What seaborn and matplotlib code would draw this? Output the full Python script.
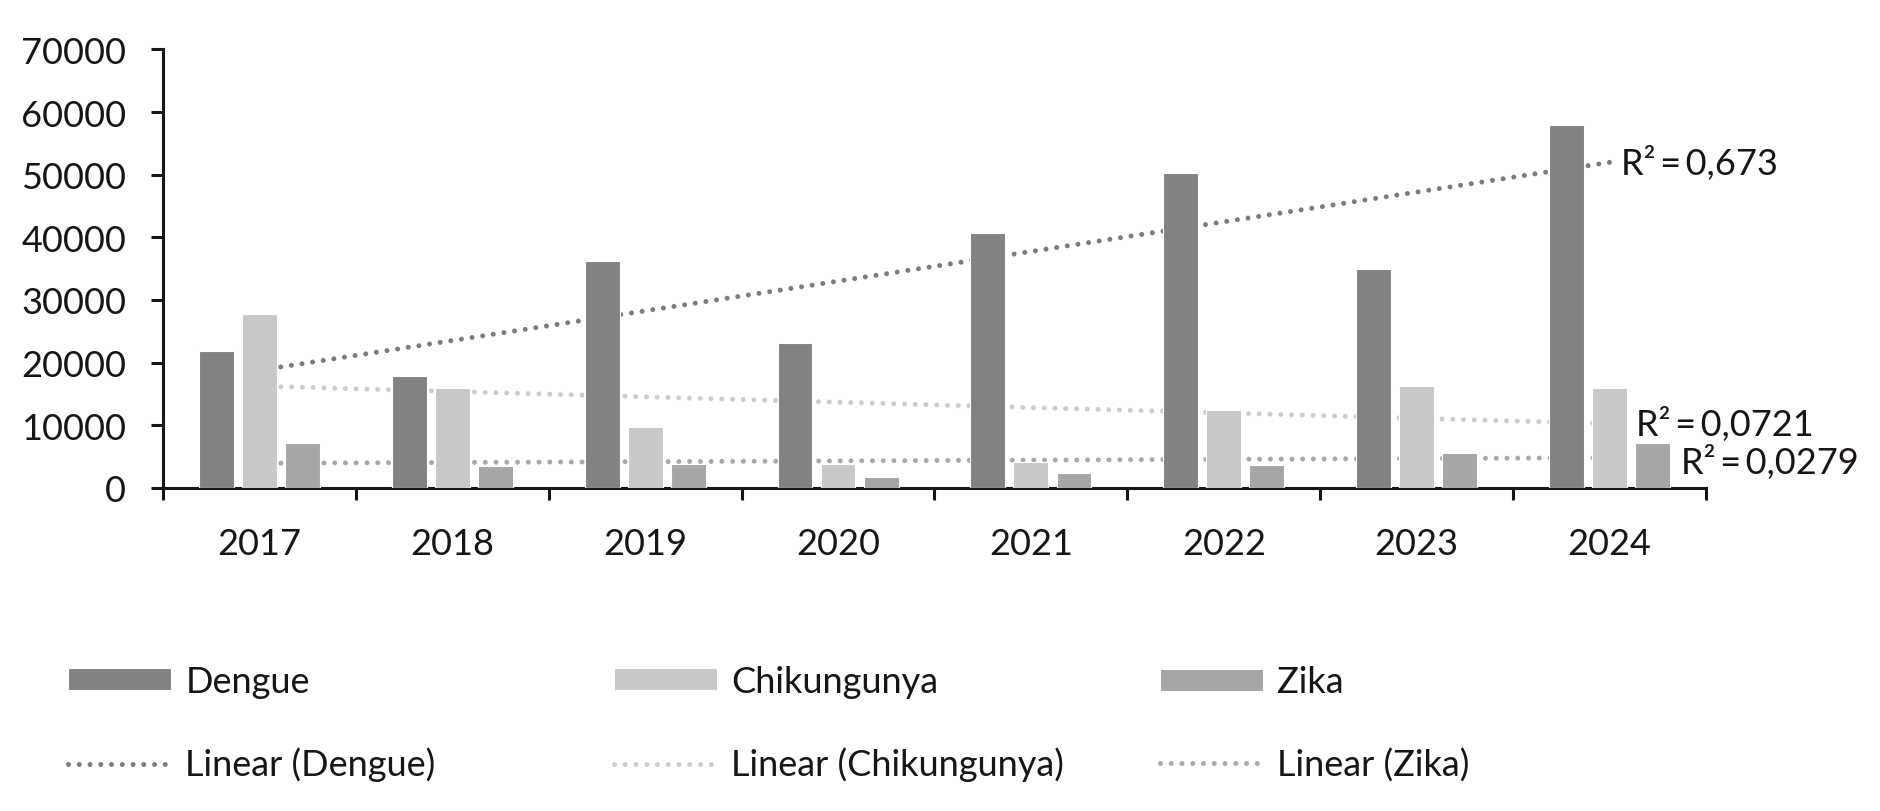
import numpy as np
import pandas as pd
import matplotlib
matplotlib.use("Agg")
import matplotlib.pyplot as plt
import seaborn as sns
from matplotlib.lines import Line2D
from matplotlib.patches import Patch

years = ["2017", "2018", "2019", "2020", "2021", "2022", "2023", "2024"]
dengue = [21800, 17900, 36200, 23200, 40700, 50300, 35000, 57900]
chikungunya = [27700, 15900, 9700, 3900, 4200, 12500, 16300, 15900]
zika = [7100, 3500, 3900, 1800, 2400, 3700, 5600, 7100]
series_names = ["Dengue", "Chikungunya", "Zika"]
trend_names = ["Linear (Dengue)", "Linear (Chikungunya)", "Linear (Zika)"]
r2_labels = ["R²\u2009=\u20090,673", "R²\u2009=\u20090,0721", "R²\u2009=\u20090,0279"]
yticks = [0, 10000, 20000, 30000, 40000, 50000, 60000, 70000]

bar_colors = ["#828282", "#c8c8c8", "#a6a6a6"]
line_colors = ["#7c7c7c", "#cdcdcd", "#a8a8a8"]
TXT = "#1a1413"

sns.set_theme(style="white")
plt.rcParams['font.family'] = ['Lato', 'DejaVu Sans']
plt.rcParams['font.weight'] = 'normal'
FS = 26

values = [dengue, chikungunya, zika]
df = pd.DataFrame({
    "Year": years * 3,
    "Cases": dengue + chikungunya + zika,
    "Disease": [n for n in series_names for _ in years],
})

fig = plt.figure(figsize=(18.8, 8.12), dpi=100)
ax = fig.add_axes([0.0867, 0.3978, 0.8207, 0.5402])

sns.barplot(data=df, x="Year", y="Cases", hue="Disease", hue_order=series_names,
            palette=bar_colors, width=0.67, gap=0.19, ax=ax, legend=False,
            zorder=3, edgecolor="white", linewidth=0.8, saturation=1)

dot_style = (0, (0.001, 2.15))
xs = np.arange(len(years))
for vals, col in zip(values, line_colors):
    k, b = np.polyfit(xs, np.array(vals, dtype=float), 1)
    ax.plot(xs, k * xs + b, color=col, lw=3.6, linestyle=dot_style,
            dash_capstyle="round", zorder=2)

# R² labels
label_pos = [(7.06, 52000), (7.14, 10300), (7.37, 4200)]
for (lx, ly), t in zip(label_pos, r2_labels):
    ax.text(lx, ly, t, ha="left", va="center", fontsize=FS, color=TXT, clip_on=False)

ax.set_xlim(-0.5, 7.5)
ax.set_ylim(0, 70000)
ax.set_yticks(yticks)
ax.set_yticklabels([str(v) for v in yticks])
ax.set_xlabel("")
ax.set_ylabel("")
for s in ["top", "right"]:
    ax.spines[s].set_visible(False)
for s in ["left", "bottom"]:
    ax.spines[s].set_color(TXT)
    ax.spines[s].set_linewidth(2.2)

ax.tick_params(axis="y", which="major", direction="out", length=8.6, width=2.2,
               color=TXT, labelsize=FS, labelcolor=TXT, pad=18, left=True)
ax.set_xticks(np.arange(-0.5, 7.6, 1.0), minor=True)
ax.tick_params(axis="x", which="minor", direction="out", length=8.6, width=2.2,
               color=TXT, bottom=True)
ax.tick_params(axis="x", which="major", length=0, labelsize=FS, labelcolor=TXT, pad=28)

# Legends: three columns
col_x = [0.0362, 0.3266, 0.6170]
for i in range(3):
    handles = [Patch(facecolor=bar_colors[i], edgecolor="white", linewidth=0.8),
               Line2D([], [], color=line_colors[i], lw=3.6, linestyle=dot_style,
                      dash_capstyle="round")]
    fig.legend(handles, [series_names[i], trend_names[i]], loc="center left",
               bbox_to_anchor=(col_x[i], 0.108), frameon=False, fontsize=FS,
               handlelength=2.85, handleheight=0.55, handletextpad=0.4,
               labelspacing=1.35, borderpad=0, borderaxespad=0, labelcolor=TXT)

fig.savefig("out.png", dpi=100)
